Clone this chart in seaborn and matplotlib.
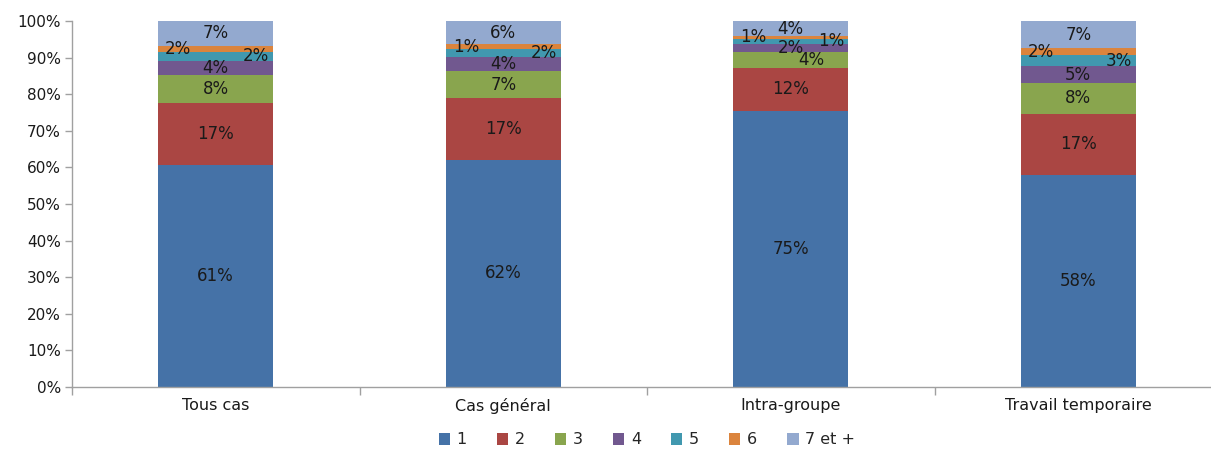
import matplotlib
matplotlib.use("Agg")
import matplotlib.pyplot as plt
import seaborn as sns
import numpy as np
import pandas as pd
from matplotlib.patches import Patch
from matplotlib.ticker import PercentFormatter

categories = ["Tous cas", "Cas général", "Intra-groupe", "Travail temporaire"]
series = ["1", "2", "3", "4", "5", "6", "7 et +"]
s1 = [60.7, 62.1, 75.4, 57.9]
s2 = [16.9, 16.9, 11.8, 16.8]
s3 = [7.6, 7.3, 4.3, 8.3]
s4 = [4.0, 3.8, 2.2, 4.7]
s5 = [2.3, 2.2, 1.4, 3.0]
s6 = [1.7, 1.3, 0.8, 1.9]
s7 = [6.8, 6.4, 4.1, 7.4]
values = [s1, s2, s3, s4, s5, s6, s7]
colors = ["#4572A7", "#AA4643", "#89A54E", "#71588F", "#4198AF", "#DB843D", "#93A9CF"]

sns.set_theme(style="white")
plt.rcParams['font.family'] = ['DejaVu Sans']

fig = plt.figure(figsize=(12.11, 4.5), dpi=100)
ax = fig.add_axes([72/1211, 63/450, 1150/1211, 366/450])

# horizontal label offsets (category units) for small segments
xoff = {4: 0.14, 5: -0.13}
special = {(2, 2): 0.07}

bottom = np.zeros(len(categories))
for i, (name, vals) in enumerate(zip(series, values)):
    df = pd.DataFrame({"cat": categories, "val": vals})
    sns.barplot(data=df, x="cat", y="val", bottom=bottom, color=colors[i],
                width=0.4, ax=ax, saturation=1, linewidth=0, errorbar=None)
    for j, v in enumerate(vals):
        dx = special.get((j, i), xoff.get(i, 0.0))
        ax.text(j + dx, bottom[j] + v / 2, f"{round(v):d}%", ha="center", va="center",
                fontsize=12, color="#1a1a1a")
    bottom = bottom + np.array(vals)

ax.set_xlim(-0.5, 3.5)
ax.set_ylim(0, 100)
ax.set_yticks(np.arange(0, 101, 10))
ax.yaxis.set_major_formatter(PercentFormatter(decimals=0))
ax.set_xlabel("")
ax.set_ylabel("")
for sp in ["top", "right"]:
    ax.spines[sp].set_visible(False)
for sp in ["left", "bottom"]:
    ax.spines[sp].set_color("#A0A0A0")
    ax.spines[sp].set_linewidth(1)
ax.tick_params(axis="y", which="major", length=5, width=1, color="#A0A0A0",
               labelsize=11, labelcolor="#1a1a1a", left=True, pad=3)
ax.tick_params(axis="x", which="major", length=0, labelsize=11.5, labelcolor="#1a1a1a", pad=8)
ax.set_xticks([-0.5, 0.5, 1.5, 2.5], minor=True)
ax.tick_params(axis="x", which="minor", length=6, width=1, color="#A0A0A0", bottom=True)

handles = [Patch(facecolor=c, edgecolor="none", label=s) for c, s in zip(colors, series)]
fig.legend(handles=handles, loc="center", bbox_to_anchor=(647/1211, 1 - 440/450), ncol=7,
           frameon=False, fontsize=11.5, handlelength=0.7, handleheight=0.7,
           handletextpad=0.4, columnspacing=1.9)

fig.savefig("out.png", dpi=100)
